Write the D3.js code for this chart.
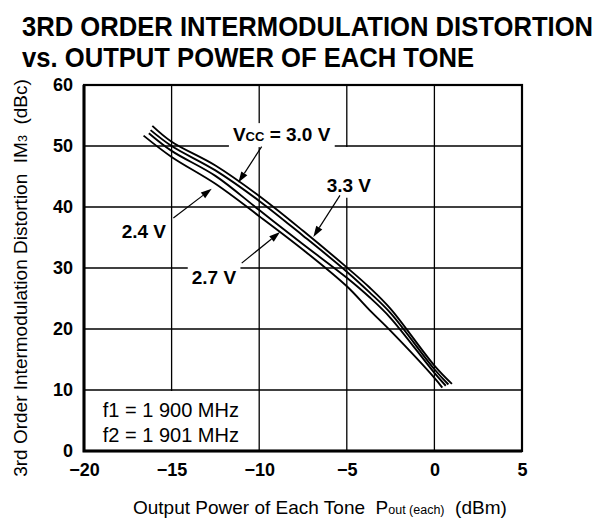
<!DOCTYPE html>
<html>
<head>
<meta charset="utf-8">
<script src="https://cdn.jsdelivr.net/npm/d3@7"></script>
<style>
  body { margin: 0; background: #fff; }
  svg { display: block; }
  text { font-family: "Liberation Sans", Arial, Helvetica, sans-serif; fill: #000; }
  .keep-spaces { white-space: pre; }
</style>
</head>
<body>
<svg id="chart" width="603" height="524"></svg>
<script>
// Axis ticks
const xTicks = [-20, -15, -10, -5, 0, 5];
const yTicks = [0, 10, 20, 30, 40, 50, 60];

// IM3 (dBc) versus output power of each tone (dBm), one curve per supply voltage
const pout24 = [-16.6, -15, -12.5, -10, -7.5, -5, -3.7, -2.5, 0, 0.45];
const im24   = [51.7, 48.2, 43.8, 38.5, 33.0, 27.0, 23.1, 19.7, 12.0, 10.4];
const pout27 = [-16.3, -15, -12.5, -10, -7.5, -5, -3.7, -2.5, 0, 0.65];
const im27   = [52.1, 49.2, 45.1, 39.5, 33.9, 28.4, 25.2, 21.8, 12.8, 10.7];
const pout30 = [-16.2, -15, -12.5, -10, -7.5, -5, -3.7, -2.5, 0, 0.8];
const im30   = [52.6, 50.0, 46.0, 41.0, 35.3, 29.4, 26.0, 22.6, 13.4, 10.9];
const pout33 = [-16.1, -15, -12.5, -10, -7.5, -5, -3.7, -2.5, 0, 1.0];
const im33   = [53.3, 50.7, 46.8, 41.8, 36.1, 30.1, 26.8, 23.3, 14.0, 11.0];

const seriesPout = [pout24, pout27, pout30, pout33];
const seriesIm = [im24, im27, im30, im33];

// Curve call-outs: label, text anchor (dBm, dBc), arrow tail, arrow tip
const calloutText = ["3.0 V", "3.3 V", "2.4 V", "2.7 V"];
const calloutAt   = [[-11.5, 50.8], [-6.15, 42.5], [-17.85, 34.9], [-13.85, 27.3]];
const arrowFrom   = [[-9.86, 49.9], [-5.39, 41.9], [-14.9, 38.2], [-11.0, 30.8]];
const arrowTo     = [[-11.19, 44.0], [-6.91, 35.1], [-12.71, 43.0], [-8.81, 35.9]];

// Test conditions
const conditions = ["f1 = 1 900 MHz", "f2 = 1 901 MHz"];

const svg = d3.select("#chart");
const plot = { left: 84, right: 522, top: 85, bottom: 451 };

const x = d3.scaleLinear().domain([-20, 5]).range([plot.left, plot.right]);
const y = d3.scaleLinear().domain([0, 60]).range([plot.bottom, plot.top]);

// Title (slightly condensed bold face)
const title = svg.append("g").attr("font-weight", "bold").attr("font-size", 28);
title.append("text").attr("transform", "translate(22,36) scale(0.915,1)")
  .text("3RD ORDER INTERMODULATION DISTORTION");
title.append("text").attr("transform", "translate(22,67) scale(0.915,1)")
  .text("vs. OUTPUT POWER OF EACH TONE");

// Grid
const grid = svg.append("g").attr("stroke", "#000").attr("stroke-width", 1.3);
grid.selectAll("line.gx").data(xTicks.slice(1, -1)).join("line")
  .attr("x1", d => x(d)).attr("x2", d => x(d))
  .attr("y1", plot.top).attr("y2", plot.bottom);
grid.selectAll("line.gy").data(yTicks.slice(1, -1)).join("line")
  .attr("x1", plot.left).attr("x2", plot.right)
  .attr("y1", d => y(d)).attr("y2", d => y(d));

// White panel behind the test conditions
const condLayer = svg.append("g");
condLayer.append("rect")
  .attr("x", plot.left + 1).attr("y", y(10) + 1)
  .attr("width", x(-10) - plot.left - 3).attr("height", y(0) - y(10) - 2)
  .attr("fill", "#fff");
conditions.forEach((t, i) => {
  condLayer.append("text")
    .attr("x", x(-18.93)).attr("y", y(5.6) + i * 25)
    .attr("font-size", 20).text(t);
});

// Frame
svg.append("rect")
  .attr("x", plot.left).attr("y", plot.top)
  .attr("width", plot.right - plot.left).attr("height", plot.bottom - plot.top)
  .attr("fill", "none").attr("stroke", "#000").attr("stroke-width", 2.2);
svg.append("path")
  .attr("d", `M${plot.left},${plot.top}V${plot.bottom}H${plot.right}`)
  .attr("fill", "none").attr("stroke", "#000").attr("stroke-width", 3);

// Axes (labels only, the frame is drawn above)
const xAxis = d3.axisBottom(x).tickValues(xTicks).tickSize(0).tickPadding(12);
const yAxis = d3.axisLeft(y).tickValues(yTicks).tickSize(0).tickPadding(11);
const gx = svg.append("g").attr("transform", `translate(0,${plot.bottom})`).call(xAxis);
const gy = svg.append("g").attr("transform", `translate(${plot.left},0)`).call(yAxis);
[gx, gy].forEach(g => {
  g.select(".domain").remove();
  g.selectAll("text").attr("font-size", 18).attr("font-weight", "bold")
    .attr("font-family", "'Liberation Sans', Arial, Helvetica, sans-serif").attr("fill", "#000");
});

// Curves
const line = d3.line().x(d => x(d[0])).y(d => y(d[1])).curve(d3.curveCatmullRom.alpha(0.5));
svg.append("g").selectAll("path").data(seriesPout.map((p, i) => d3.zip(p, seriesIm[i])))
  .join("path")
  .attr("d", line)
  .attr("fill", "none").attr("stroke", "#000").attr("stroke-width", 1.9)
  .attr("stroke-linejoin", "round");

// Call-out labels with white backing
const callouts = svg.append("g");
calloutText.forEach((t, i) => {
  const g = callouts.append("g");
  const bg = g.append("rect").attr("fill", "#fff");
  const txt = g.append("text")
    .attr("x", x(calloutAt[i][0])).attr("y", y(calloutAt[i][1]))
    .attr("font-size", 19).attr("font-weight", "bold");
  if (i === 0) {
    txt.append("tspan").text("V");
    txt.append("tspan").attr("font-size", 13).text("CC");
    txt.append("tspan").text(" = " + t);
  } else {
    txt.text(t);
  }
  const b = txt.node().getBBox();
  const pad = 4;
  // the 3.3 V backing reaches up to the 50 dBc grid line
  const top = i === 1 ? y(50) + 1 : b.y - 1;
  const bottom = b.y + b.height + 2;
  bg.attr("x", b.x - pad).attr("y", top).attr("width", b.width + 2 * pad).attr("height", bottom - top);
});

// Arrows
const arrows = svg.append("g");
arrowTo.forEach((tip, i) => {
  const tail = arrowFrom[i];
  const x0 = x(tail[0]), y0 = y(tail[1]), x1 = x(tip[0]), y1 = y(tip[1]);
  const ang = Math.atan2(y1 - y0, x1 - x0);
  const len = 11, half = 3.6;
  const bx = x1 - len * Math.cos(ang), by = y1 - len * Math.sin(ang);
  arrows.append("line").attr("x1", x0).attr("y1", y0).attr("x2", bx).attr("y2", by)
    .attr("stroke", "#000").attr("stroke-width", 1.2);
  arrows.append("path")
    .attr("d", `M${x1},${y1}L${bx + half * Math.sin(ang)},${by - half * Math.cos(ang)}L${bx - half * Math.sin(ang)},${by + half * Math.cos(ang)}Z`)
    .attr("fill", "#000");
});

// Axis titles
const xt = svg.append("text").attr("class", "keep-spaces")
  .attr("x", 133).attr("y", 514).attr("font-size", 19);
xt.append("tspan").text("Output Power of Each Tone  P");
xt.append("tspan").attr("font-size", 12.5).text("out (each)");
xt.append("tspan").text("  (dBm)");

const yt = svg.append("text").attr("class", "keep-spaces")
  .attr("transform", "translate(27,278) rotate(-90)")
  .attr("text-anchor", "middle").attr("font-size", 19);
yt.append("tspan").text("3rd Order Intermodulation Distortion  IM");
yt.append("tspan").attr("font-size", 12.5).text("3");
yt.append("tspan").text("  (dBc)");
</script>
</body>
</html>
